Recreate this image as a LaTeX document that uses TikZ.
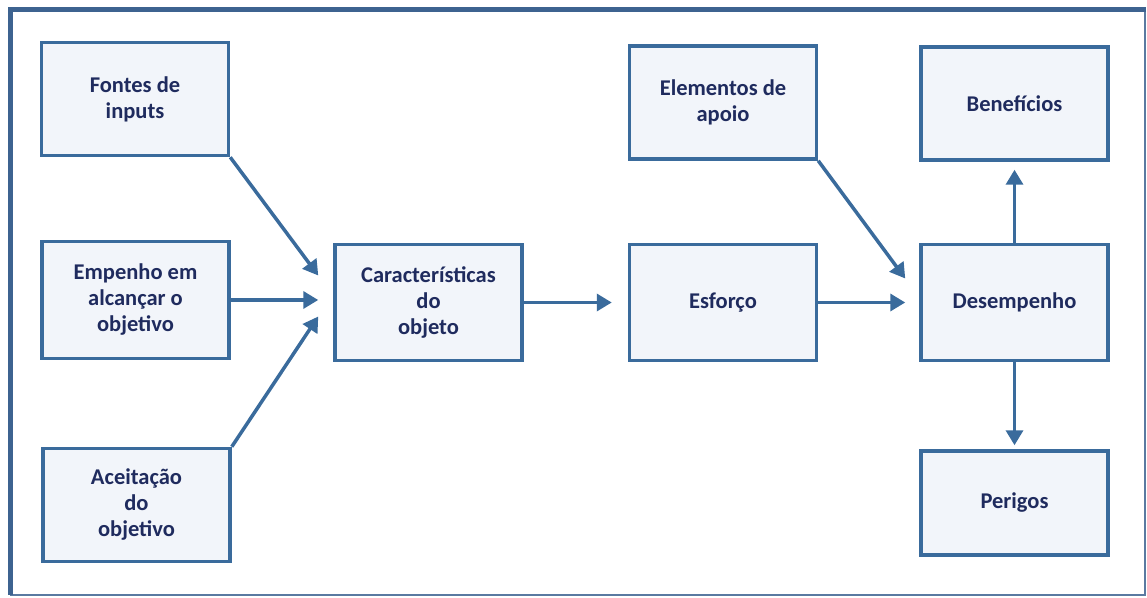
\documentclass[tikz,border=0pt]{standalone}
\usepackage{fontspec}
\setmainfont{Carlito}
\usepackage{tikz}
\usetikzlibrary{arrows.meta}
\usetikzlibrary{positioning}

\definecolor{boxline}{HTML}{3A6B9C}
\definecolor{boxfill}{HTML}{F2F5FA}
\definecolor{boxtext}{HTML}{1F2B5E}
\definecolor{frameline}{HTML}{3D6390}

\begin{document}
\begin{tikzpicture}[x=1pt, y=1pt, node distance=104pt,
			block/.style={rectangle, draw=boxline, fill=boxfill, line width=3.5pt,
				minimum width=187pt, minimum height=113pt, align=center,
				text=boxtext, font=\fontsize{22.5}{26}\selectfont\bfseries},
			flow/.style={draw=boxline, line width=3.5pt, -{Triangle[length=15pt,width=17pt]}}]
			
			\useasboundingbox (0,0) rectangle (1147,597);
			
			% frame
			\draw[frameline!85, line width=2pt] (11,2) rectangle (1145,587);
			\draw[frameline, line width=5pt] (10.5,2) -- (10.5,587) -- (1146,587);
			
			\node[block] (fontes) at (135,498) {Fontes de\\inputs};
			\node[block, minimum height=117pt] (empenho) at (135.5,297) {Empenho em\\alcançar o\\objetivo};
			\node[block] (aceit) at (136.5,92) {Aceitação\\do\\objetivo};
			\node[block, minimum height=116pt] (caract) at (428.5,294.5) {Características\\do\\objeto};
			\node[block, minimum height=116pt] (esforco) [right=of caract] {Esforço};
			\node[block, minimum height=116pt] (desemp) [right=101pt of esforco] {Desempenho};
			\node[block] (apoio) [above=82pt of esforco] {Elementos de\\apoio};
			\node[block] (benef) [above=81pt of desemp] {Benefícios};
			\node[block, minimum height=104pt] (perigos) [below=87pt of desemp] {Perigos};
			
			\draw[flow] (fontes.south east) -- ([xshift=-15pt,yshift=27pt]caract.west);
			\draw[flow, shorten >=15pt] (empenho.east) -- (empenho.east -| caract.west);
			\draw[flow] (aceit.north east) -- ([xshift=-15pt,yshift=-14pt]caract.west);
			\draw[flow, shorten >=16pt] (caract) -- (esforco);
			\draw[flow] (apoio.south east) -- ([xshift=-14pt,yshift=24pt]desemp.west);
			\draw[flow, shorten >=14pt] (esforco) -- (desemp);
			\draw[flow, shorten >=8pt] (desemp) -- (benef);
			\draw[flow, shorten >=4pt] (desemp) -- (perigos);
			\end{tikzpicture}
\end{document}
